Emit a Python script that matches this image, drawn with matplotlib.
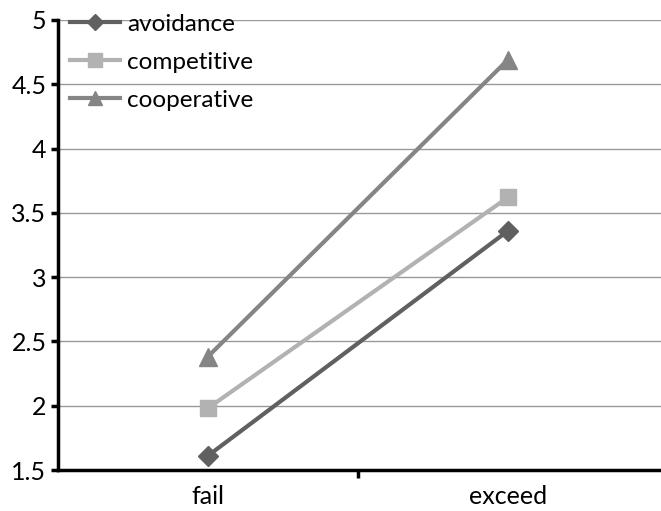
import numpy as np
import matplotlib.pyplot as plt

plt.rcParams['font.family'] = ['Lato', 'DejaVu Sans']

categories = ['fail', 'exceed']
avoidance = [1.61, 3.36]
competitive = [1.98, 3.62]
cooperative = [2.38, 4.69]
yticks = [1.5, 2, 2.5, 3, 3.5, 4, 4.5, 5]

fig = plt.figure(figsize=(6.61, 5.11), dpi=100)
ax = fig.add_axes([0.087, 0.080, 0.913, 0.881])

x = np.arange(len(categories))
ax.plot(x, avoidance, color='#606060', lw=3, marker='D', ms=10, label='avoidance', zorder=3)
ax.plot(x, competitive, color='#b2b2b2', lw=3, marker='s', ms=12, label='competitive', zorder=3)
ax.plot(x, cooperative, color='#858585', lw=3, marker='^', ms=13, label='cooperative', zorder=3)

ax.set_xlim(-0.5, 1.51)
ax.set_ylim(1.5, 5)
ax.set_yticks(yticks)
ax.set_yticklabels(['1.5', '2', '2.5', '3', '3.5', '4', '4.5', '5'], fontsize=18)
ax.set_xticks(x)
ax.set_xticklabels(categories, fontsize=18)
ax.set_xticks([0.5], minor=True)
ax.tick_params(axis='x', which='major', length=0, pad=11)
ax.tick_params(axis='x', which='minor', length=6, width=2.5, direction='out')
ax.tick_params(axis='y', length=5, width=2.5, direction='out', pad=3)

ax.grid(axis='y', color='#999999', lw=1)
ax.set_axisbelow(True)
for s in ['top', 'right']:
    ax.spines[s].set_visible(False)
ax.spines['left'].set_linewidth(2.5)
ax.spines['bottom'].set_linewidth(2.5)

leg = ax.legend(loc='upper left', bbox_to_anchor=(0.073, 1.016), bbox_transform=fig.transFigure,
                frameon=False, fontsize=17.5, handlelength=2.05, handletextpad=0.3,
                labelspacing=0.7, markerscale=0.8)

fig.savefig('out.png', dpi=100)
